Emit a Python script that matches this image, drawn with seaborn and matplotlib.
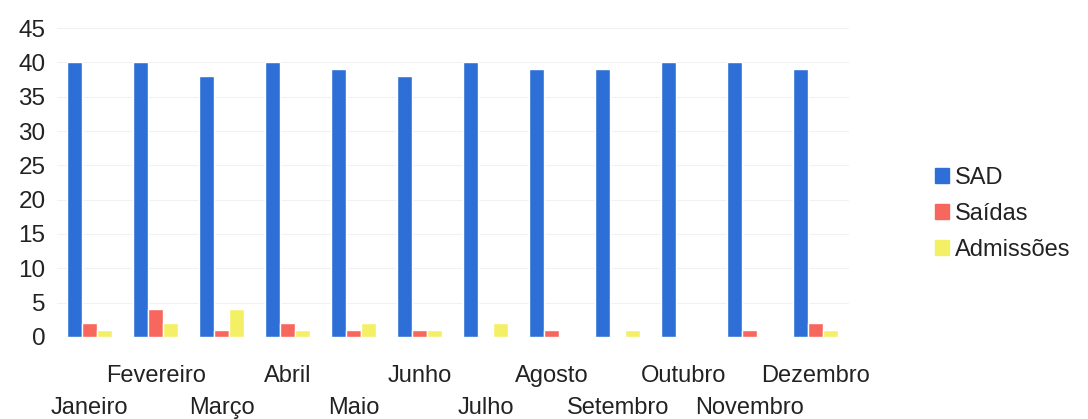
import pandas as pd
import matplotlib
matplotlib.use('Agg')
import matplotlib.pyplot as plt
import seaborn as sns

# ---------------------------------------------------------------------------
# Data
# ---------------------------------------------------------------------------

MONTHS = ['Janeiro', 'Fevereiro', 'Março', 'Abril', 'Maio', 'Junho',
          'Julho', 'Agosto', 'Setembro', 'Outubro', 'Novembro', 'Dezembro']

SAD = [40, 40, 38, 40, 39, 38, 40, 39, 39, 40, 40, 39]
SAIDAS = [2, 4, 1, 2, 1, 1, 0, 1, 0, 0, 1, 2]
ADMISSOES = [1, 2, 4, 1, 2, 1, 2, 0, 1, 0, 0, 1]

SERIES = ['SAD', 'Saídas', 'Admissões']
COLORS = ['#2D6FD7', '#F7675E', '#F4F066']

Y_TICKS = list(range(0, 50, 5))

# long-form table for seaborn
df = pd.DataFrame({'Mês': MONTHS, 'SAD': SAD, 'Saídas': SAIDAS,
                   'Admissões': ADMISSOES})
long_df = df.melt(id_vars='Mês', value_vars=SERIES,
                  var_name='Série', value_name='Valor')

sns.set_style('white')
plt.rcParams['font.family'] = ['Liberation Sans', 'DejaVu Sans']

fig = plt.figure(figsize=(10.88, 4.19), dpi=100)
ax = fig.add_axes([0.052, 0.196, 0.728, 0.737])

sns.barplot(data=long_df, x='Mês', y='Valor', hue='Série', order=MONTHS,
            hue_order=SERIES, palette=COLORS, width=0.68, gap=0,
            saturation=1, ax=ax, legend=False)

ax.set_ylim(0, 45)
ax.set_xlim(-0.5, len(MONTHS) - 0.5)
ax.set_yticks(Y_TICKS)
ax.set_yticklabels([str(t) for t in Y_TICKS], fontsize=17.5, color='#222222')
ax.yaxis.grid(True, color='#f2f2f2', linewidth=0.8)
ax.set_axisbelow(True)

# staggered month labels: odd months on upper row, even months one row lower
ax.set_xticks(range(len(MONTHS)))
ax.set_xticklabels(MONTHS, fontsize=17, color='#222222')
ax.tick_params(axis='x', length=0, pad=20)
ax.tick_params(axis='y', length=0, pad=8)
for i, lab in enumerate(ax.get_xticklabels()):
    if i % 2 == 0:
        lab.set_y(-0.104)
ax.set_xlabel('')
ax.set_ylabel('')
for s in ax.spines.values():
    s.set_visible(False)

handles = [plt.Rectangle((0, 0), 1, 1, color=c) for c in COLORS]
fig.legend(handles, SERIES, loc='center left', bbox_to_anchor=(0.84, 0.49),
           frameon=False, fontsize=17, handlelength=0.6, handleheight=0.6,
           handletextpad=0.25, labelspacing=0.6, labelcolor='#222222')

fig.savefig('out.png', dpi=100)
